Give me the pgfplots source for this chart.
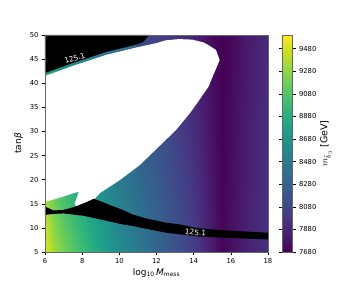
\documentclass[border=0pt]{standalone}
\usepackage{pgfplots}
\pgfplotsset{compat=1.18}
\usepackage{pgfplotstable}
\usepackage{fontspec}
\setmainfont{DejaVu Sans}

\pgfplotstableread{
x y z
6 5 9520
6.5 5 9330
7 5 9200
8 5 9000
9 5 8800
10 5 8620
11 5 8460
12 5 8320
13 5 8180
14 5 8030
15 5 7820
15.5 5 7700
16 5 7760
17 5 7870
18 5 7950
6 10 9445
6.5 10 9255
7 10 9125
8 10 8930
9 10 8740
10 10 8570
11 10 8420
12 10 8290
13 10 8155
14 10 8010
15 10 7810
15.5 10 7697
16 10 7755
17 10 7865
18 10 7945
6 15 9370
6.5 15 9180
7 15 9050
8 15 8860
9 15 8680
10 15 8520
11 15 8380
12 15 8260
13 15 8130
14 15 7990
15 15 7800
15.5 15 7695
16 15 7750
17 15 7860
18 15 7940
6 20 9295
6.5 20 9105
7 20 8975
8 20 8790
9 20 8620
10 20 8470
11 20 8340
12 20 8230
13 20 8105
14 20 7970
15 20 7790
15.5 20 7692
16 20 7745
17 20 7855
18 20 7935
6 30 9145
6.5 30 8955
7 30 8825
8 30 8650
9 30 8500
10 30 8370
11 30 8260
12 30 8170
13 30 8055
14 30 7930
15 30 7770
15.5 30 7687
16 30 7735
17 30 7845
18 30 7925
6 40 8995
6.5 40 8805
7 40 8675
8 40 8510
9 40 8380
10 40 8270
11 40 8180
12 40 8110
13 40 8005
14 40 7890
15 40 7750
15.5 40 7682
16 40 7725
17 40 7835
18 40 7915
6 50 8845
6.5 50 8655
7 50 8525
8 50 8370
9 50 8260
10 50 8170
11 50 8100
12 50 8050
13 50 7955
14 50 7850
15 50 7730
15.5 50 7680
16 50 7715
17 50 7825
18 50 7905
}\mstable

\definecolor{tealline}{HTML}{21918C}

\begin{document}
\begin{tikzpicture}
\begin{axis}[
  at={(45pt,36pt)}, anchor=south west,
  scale only axis, width=223pt, height=217pt,
  xmin=6, xmax=18, ymin=5, ymax=50,
  xtick={6,8,...,18}, ytick={5,10,...,50},
  tick align=outside, major tick length=3pt,
  xtick pos=bottom, ytick pos=left,
  axis line style={gray!80!black, line width=0.6pt},
  tick style={black, line width=0.5pt},
  /pgf/number format/assume math mode=true,
  ticklabel style={font=\fontsize{6.8}{8}\selectfont},
  xlabel={log\textsubscript{10}\,\textit{M}\textsubscript{mess}},
  ylabel={tan\textit{β}},
  label style={font=\fontsize{9}{11}\selectfont},
  xlabel style={yshift=2pt},
  colormap/viridis,
  point meta min=7680, point meta max=9600,
  axis on top,
  colorbar,
  colorbar style={
    at={(parent axis.south east)}, anchor=south west, xshift=5.5pt,
    scale only axis, width=10.5pt, height=217pt,
    ytick={7680,7880,...,9480},
    tick align=outside, major tick length=3pt,
    axis line style={gray!80!black, line width=0.6pt},
    /pgf/number format/assume math mode=true,
    /pgf/number format/1000 sep={},
    yticklabel style={font=\fontsize{6.8}{8}\selectfont, /pgf/number format/1000 sep={}},
    ylabel={$m_{\tilde{b}_3}$ [GeV]},
    ylabel style={font=\fontsize{9.5}{11}\selectfont},
    ylabel shift=-3pt,
  },
]
\addplot[surf, shader=interp, mesh/cols=15, point meta=\thisrow{z}] table[x=x, y=y] {\mstable};

% excluded (white) region
\addplot[fill=white, draw=none] coordinates {
 (6,41.5) (7.5,43.6) (9.3,45.9) (10.9,47.4) (11.5,47.9) (11.98,48.3) (12.5,48.9)
 (13.2,49.15) (13.9,49.05) (14.5,48.5) (14.8,47.9) (15.2,46.9) (15.4,44.8)
 (15.1,42.1) (14.8,39.3) (14.3,36.5) (13.8,33.8) (13.05,30.3) (12.3,27.5)
 (11.09,23.0) (10.02,19.9) (8.95,17.2) (8.63,15.8) (8.27,15.2) (7.7,14.2)
 (7.6,15.1) (7.82,17.5) (7.38,17.0) (6.66,16.1) (6,15.4)
};

% black region top-left
\addplot[fill=black, draw=none] coordinates {
 (6,50) (6,42.1) (7.5,44.2) (9.3,46.5) (10.9,48.0) (11.3,48.6) (11.6,50)
};
\addplot[tealline, line width=0.9pt] coordinates {
 (6,41.85) (7.5,43.95) (9.3,46.25) (10.9,47.75)
};

% black band
\addplot[fill=black, draw=none] coordinates {
 (6,14.4) (6.48,13.6) (7.0,13.75) (7.55,14.3) (8.27,15.4) (8.63,16.05)
 (9.52,14.7) (10.2,13.7) (10.7,12.8) (11.4,12.0) (12.5,11.1) (13.2,10.75)
 (14.3,9.9) (16,9.4) (18,9.0)
 (18,7.6) (16,7.9) (14.3,8.2) (12.5,9.0) (10.7,10.4) (10.2,10.7)
 (9.16,11.6) (8.1,12.5) (7.0,13.0) (6.5,12.9) (6,12.7)
};

\node[white, rotate=-5, font=\fontsize{7.5}{9}\selectfont] at (axis cs:14.1,9.0) {125.1};
\node[white, rotate=17, font=\fontsize{7.5}{9}\selectfont] at (axis cs:7.6,45.2) {125.1};
\end{axis}
\pgfresetboundingbox
\path[use as bounding box] (0,0) rectangle (360pt,288pt);
\end{tikzpicture}
\end{document}
